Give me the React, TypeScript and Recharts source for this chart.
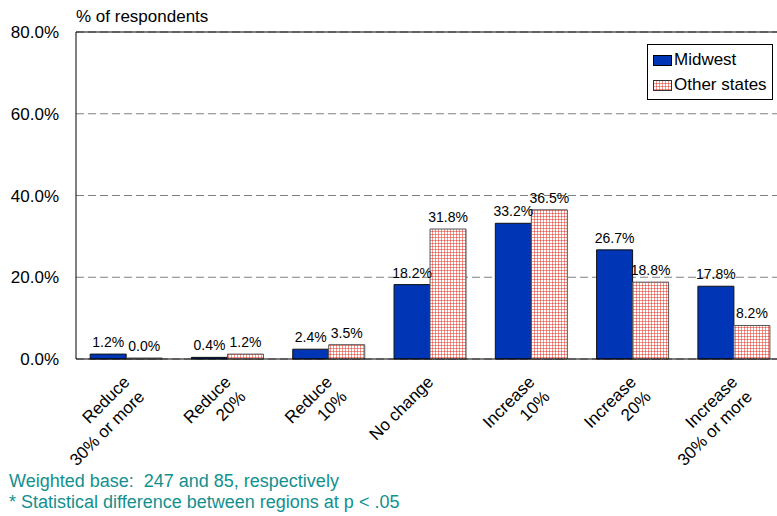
import { Bar, BarChart, CartesianGrid, LabelList, ReferenceLine, XAxis, YAxis } from "recharts";

const categories = [
  "Reduce\n30% or more",
  "Reduce\n20%",
  "Reduce\n10%",
  "No change",
  "Increase\n10%",
  "Increase\n20%",
  "Increase\n30% or more",
];
const midwest = [1.2, 0.4, 2.4, 18.2, 33.2, 26.7, 17.8];
const otherStates = [0.0, 1.2, 3.5, 31.8, 36.5, 18.8, 8.2];
const yTicks = [0, 20, 40, 60, 80];

const data = categories.map((c, i) => ({
  category: c,
  midwest: midwest[i],
  other: otherStates[i],
}));

const FONT = '"Liberation Sans", Arial, sans-serif';
const BLUE = "#0035b5";
const RED = "#e0301e";
const TEAL = "#12908e";

const pct = (v: any) => `${Number(v).toFixed(1)}%`;

function CategoryTick({ x, y, payload }: any) {
  const lines = String(payload.value).split("\n");
  return (
    <g transform={`translate(${x + 4},${y + 16}) rotate(-45)`}>
      {lines.map((l, i) => (
        <text key={i} x={0} y={i * 21} textAnchor="end" fontSize={17} fill="#000">
          {l}
        </text>
      ))}
    </g>
  );
}

function GridPattern({ id }: { id: string }) {
  return (
    <pattern id={id} width={3} height={3} patternUnits="userSpaceOnUse">
      <rect width={3} height={3} fill="#fff" />
      <path d="M0 0H3M0 0V3" stroke={RED} strokeWidth={1} />
    </pattern>
  );
}

export default function App() {
  return (
    <div
      style={{
        position: "fixed",
        left: 0,
        top: 0,
        width: 777,
        height: 516,
        overflow: "hidden",
        background: "#fff",
        fontFamily: FONT,
      }}
    >
      <div style={{ position: "absolute", left: 76, top: 7, fontSize: 17, color: "#000" }}>
        % of respondents
      </div>

      <BarChart
        width={800}
        height={516}
        data={data}
        margin={{ top: 32, right: 15, bottom: 0, left: 0 }}
        barCategoryGap="14%"
        barGap={0}
      >
        <defs>
          <GridPattern id="redGrid" />
        </defs>
        <CartesianGrid vertical={false} stroke="#808080" strokeDasharray="8 4" />
        <ReferenceLine y={80} stroke="#000" strokeWidth={1} />
        <XAxis
          dataKey="category"
          height={157}
          axisLine={{ stroke: "#000" }}
          tickLine={false}
          interval={0}
          tick={<CategoryTick />}
        />
        <YAxis
          width={76}
          domain={[0, 80]}
          ticks={yTicks}
          tickFormatter={pct}
          axisLine={{ stroke: "#000" }}
          tickLine={false}
          tickMargin={11}
          tick={{ fontSize: 17, fill: "#000" }}
        />
        <Bar dataKey="midwest" fill={BLUE} stroke="#111" strokeWidth={1} minPointSize={1} isAnimationActive={false}>
          <LabelList dataKey="midwest" position="top" offset={7} formatter={pct} fontSize={14} fill="#000" />
        </Bar>
        <Bar dataKey="other" fill="url(#redGrid)" stroke="#555" strokeWidth={1} minPointSize={1} isAnimationActive={false}>
          <LabelList dataKey="other" position="top" offset={7} formatter={pct} fontSize={14} fill="#000" />
        </Bar>
      </BarChart>

      <div
        style={{
          position: "absolute",
          left: 647,
          top: 44,
          width: 124,
          height: 54,
          border: "1px solid #000",
          background: "#fff",
          fontSize: 17,
          color: "#000",
        }}
      >
        <div style={{ display: "flex", alignItems: "center", height: 26, marginTop: 2, paddingLeft: 5 }}>
          <span style={{ width: 17, height: 9, background: BLUE, border: "1px solid #000", marginRight: 2 }} />
          Midwest
        </div>
        <div style={{ display: "flex", alignItems: "center", height: 24, paddingLeft: 5 }}>
          <svg width={19} height={11} style={{ marginRight: 2 }}>
            <defs>
              <GridPattern id="redGridLegend" />
            </defs>
            <rect x={0.5} y={0.5} width={18} height={10} fill="url(#redGridLegend)" stroke="#333" />
          </svg>
          Other states
        </div>
      </div>

      <div
        style={{
          position: "absolute",
          left: 9,
          top: 471,
          fontSize: 18,
          lineHeight: "21px",
          color: TEAL,
          whiteSpace: "pre",
        }}
      >
        {"Weighted base:  247 and 85, respectively\n* Statistical difference between regions at p < .05"}
      </div>
    </div>
  );
}
